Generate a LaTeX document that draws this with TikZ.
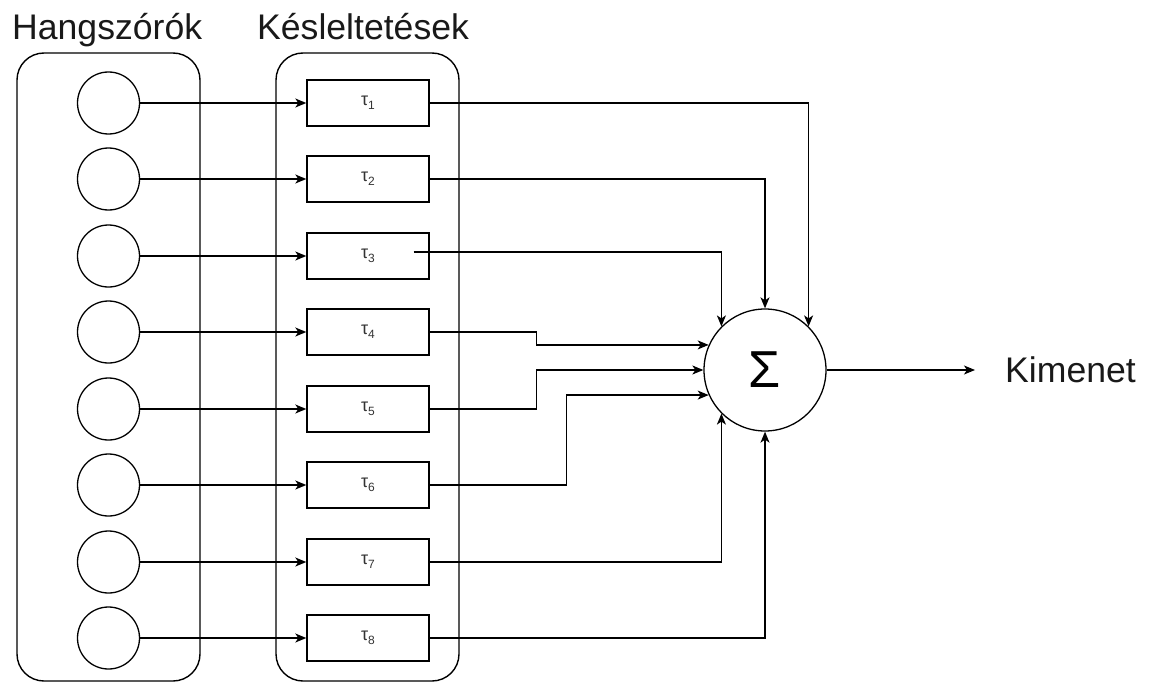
\documentclass[tikz,border=0pt]{standalone}
\usepackage{fontspec}
\setmainfont{Liberation Sans}
\usetikzlibrary{arrows.meta,calc}

\tikzset{
  wire/.style={line width=1.3pt, draw=black},
  arr/.style={wire, -{Stealth[length=11pt,width=9pt,inset=3pt]}},
  group/.style={line width=1.4pt, draw=black, rounded corners=27pt},
  speaker/.style={circle, draw=black, line width=1.3pt, minimum size=62pt, inner sep=0pt},
  delay/.style={rectangle, draw=black, line width=1.4pt, minimum width=122pt, minimum height=46pt, inner sep=0pt,
                font=\fontsize{18}{20}\selectfont, text=black!80},
  summer/.style={circle, draw=black, line width=1.3pt, minimum size=122pt, inner sep=0pt,
                 font=\fontsize{52}{56}\selectfont},
  title/.style={anchor=base west, inner sep=0pt, font=\fontsize{35.6}{40}\selectfont, text=black!90},
}
\newcommand{\tauidx}[1]{τ\raisebox{-4pt}{\fontsize{12}{14}\selectfont #1}}

\begin{document}
\begin{tikzpicture}[x=1pt,y=-1pt]
  \useasboundingbox (0,0) rectangle (1153,682);

  % column headings
  \node[title] (h1) at (12,40) {Hangszórók};
  \node[title] (h2) at (257,40) {Késleltetések};

  % grouping frames
  \draw[group] (17,53) rectangle (200,681);
  \draw[group] (276,53) rectangle (459,681);

  % speakers and delay stages, one row each
  \foreach \i in {1,...,8} {
    \pgfmathsetmacro{\yy}{round(103 + (\i-1)*76.43)}
    \node[speaker] (s\i) at (108.5,\yy) {};
    \node[delay] (t\i) at (368,\yy) {\tauidx{\i}};
    \draw[arr] (s\i) -- (t\i);
  }

  % summing junction and output
  \node[summer] (sum) at (765,370) {Σ};
  \node[anchor=west, inner sep=0pt, font=\fontsize{35.6}{40}\selectfont, text=black!90] (out) at (1005,370) {Kimenet};
  \draw[arr] (sum.east) -- ([xshift=-30pt]out.west);

  % delayed signals into the sum
  \coordinate (t3out) at ($(t3.east)+(-16,-4)$);
  \draw[arr] (t1.east) -| (sum.45);
  \draw[arr] (t2.east) -| (sum.north);
  \draw[arr] (t3out) -| (sum.135);
  \draw[arr] (t4.east) -- ++(107,0) |- (sum.156);
  \draw[arr] (t5.east) -- ++(107,0) |- (sum.west);
  \draw[arr] (t6.east) -- ++(137,0) |- (sum.204);
  \draw[arr] (t7.east) -| (sum.225);
  \draw[arr] (t8.east) -| (sum.south);
\end{tikzpicture}
\end{document}
